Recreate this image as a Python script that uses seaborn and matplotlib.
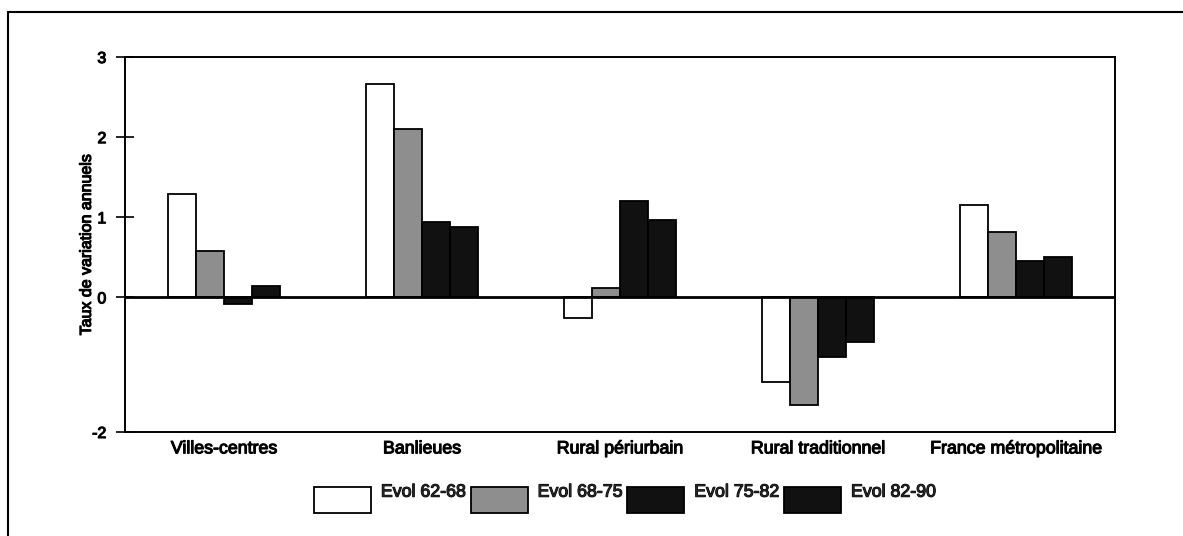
import numpy as np
import pandas as pd
import matplotlib
matplotlib.use("Agg")
import matplotlib.pyplot as plt
import matplotlib.patheffects as pe
from matplotlib.lines import Line2D
from matplotlib.patches import Patch
from matplotlib.transforms import ScaledTranslation
import seaborn as sns

# Annual rates of change (%) by type of area and census period
categories = ["Villes-centres", "Banlieues", "Rural périurbain",
              "Rural traditionnel", "France métropolitaine"]
periods = ["Evol 62-68", "Evol 68-75", "Evol 75-82", "Evol 82-90"]
evol_62_68 = [1.29, 2.66, -0.30, -1.25, 1.15]
evol_68_75 = [0.58, 2.10, 0.12, -1.60, 0.81]
evol_75_82 = [-0.10, 0.94, 1.20, -0.88, 0.46]
evol_82_90 = [0.14, 0.88, 0.97, -0.66, 0.51]
y_ticks = [-2, 0, 1, 2, 3]
y_label = "Taux de variation annuels"

df = pd.DataFrame({
    "categorie": categories,
    periods[0]: evol_62_68,
    periods[1]: evol_68_75,
    periods[2]: evol_75_82,
    periods[3]: evol_82_90,
}).melt(id_vars="categorie", var_name="periode", value_name="taux")

sns.set_style("white")
plt.rcParams["font.family"] = ["Liberation Sans", "DejaVu Sans"]

W, H = 1183, 536
fig = plt.figure(figsize=(W / 100, H / 100), dpi=100)
fig.patch.set_facecolor("white")
ax = fig.add_axes([125 / W, 1 - 432 / H, 990 / W, 375 / H])

palette = ["#ffffff", "#8e8e8e", "#111111", "#111111"]
sns.barplot(data=df, x="categorie", y="taux", hue="periode",
            order=categories, hue_order=periods, palette=palette,
            saturation=1, width=0.57, gap=0, errorbar=None,
            edgecolor="black", linewidth=1.3, legend=False, ax=ax, zorder=2)

# negative half of the value axis is drawn at a tighter scale
k = 0.84


def fwd(y):
    y = np.asarray(y, dtype=float)
    return np.where(y < 0, y * k, y)


def inv(y):
    y = np.asarray(y, dtype=float)
    return np.where(y < 0, y / k, y)


ax.set_yscale("function", functions=(fwd, inv))
ax.set_ylim(-2, 3)
ax.set_xlim(-0.5, len(categories) - 0.5)
ax.set_yticks(y_ticks)
ax.set_yticklabels([str(t) for t in y_ticks])
ax.axhline(0, color="black", lw=2, zorder=3)

for s in ax.spines.values():
    s.set_visible(True)
    s.set_color("black")
    s.set_linewidth(1.4)

ax.tick_params(axis="y", direction="inout", length=13, width=1.2,
               pad=7, labelsize=11.5, colors="black", left=True)
ax.tick_params(axis="x", length=0, pad=6, labelsize=12.8, colors="black")
ax.set_xlabel("")
ax.set_ylabel(y_label, fontsize=11.5, color="black", va="center")
ax.yaxis.set_label_coords(-0.039, 0.5)

handles = [Patch(facecolor=c, edgecolor="black", linewidth=1.3, label=p)
           for c, p in zip(palette, periods)]
leg = fig.legend(handles=handles, loc="center",
                 bbox_to_anchor=(625 / W, 1 - 500 / H), ncol=4,
                 frameon=False, fontsize=12.8, handlelength=3.2,
                 handleheight=1.9, handletextpad=0.56, columnspacing=0.28)
# legend entries sit level with the top of their swatches
for t in leg.get_texts():
    t.set_transform(t.get_transform()
                    + ScaledTranslation(0, 0.09, fig.dpi_scale_trans))

# outer frame of the figure block
fig.add_artist(Line2D([8 / W, 8 / W], [0, 1 - 12 / H],
                      transform=fig.transFigure, color="black", lw=1.5))
fig.add_artist(Line2D([8 / W, 1], [1 - 12 / H, 1 - 12 / H],
                      transform=fig.transFigure, color="black", lw=1.5))

ink = [pe.withStroke(linewidth=0.8, foreground="black")]
for t in (ax.get_xticklabels() + ax.get_yticklabels()
          + leg.get_texts() + [ax.yaxis.label]):
    t.set_path_effects(ink)

fig.savefig("out.png", dpi=100, facecolor="white")
